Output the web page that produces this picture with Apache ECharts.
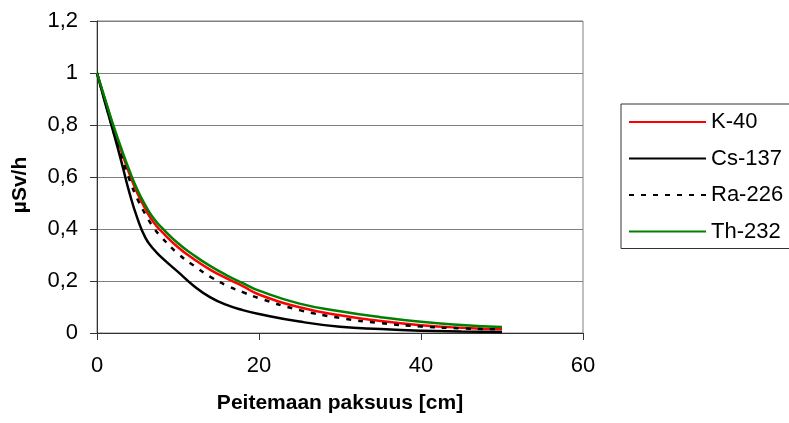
<!DOCTYPE html>
<html lang="fi">
<head>
<meta charset="UTF-8">
<title>Peitemaan paksuus</title>
<script src="https://cdn.jsdelivr.net/npm/echarts@6/dist/echarts.min.js"></script>
<style>
    html, body { margin: 0; padding: 0; background: #fff; }
    #chart { width: 789px; height: 423px; }
</style>
</head>
<body>
<div id="chart"></div>
<script>
    // paksuus cm
    var thickness = [0, 1, 2, 3, 4, 5, 6, 7, 8, 10, 12, 14, 16, 18, 20, 25, 30, 35, 40, 45, 50];
    // annosnopeus uSv/h
    var k40   = [1, 0.895, 0.795, 0.70, 0.612, 0.537, 0.475, 0.425, 0.39, 0.33, 0.283, 0.243, 0.21, 0.18, 0.148, 0.099, 0.068, 0.046, 0.03, 0.02, 0.014];
    var cs137 = [1, 0.885, 0.775, 0.66, 0.54, 0.44, 0.365, 0.322, 0.29, 0.235, 0.18, 0.137, 0.108, 0.088, 0.073, 0.044, 0.024, 0.015, 0.009, 0.006, 0.004];
    var ra226 = [1, 0.89, 0.78, 0.68, 0.59, 0.515, 0.455, 0.405, 0.367, 0.305, 0.258, 0.216, 0.183, 0.157, 0.134, 0.088, 0.058, 0.038, 0.025, 0.018, 0.014];
    var th232 = [1, 0.90, 0.80, 0.71, 0.625, 0.55, 0.49, 0.44, 0.405, 0.345, 0.298, 0.257, 0.222, 0.192, 0.163, 0.113, 0.084, 0.061, 0.043, 0.031, 0.023];
    var names = ['K-40', 'Cs-137', 'Ra-226', 'Th-232'];

    function pairs(vals) {
        return thickness.map(function (x, i) { return [x, vals[i]]; });
    }

    var font = 'Liberation Sans, Arial, sans-serif';
    var chart = echarts.init(document.getElementById('chart'));

    var option = {
        animation: false,
        grid: {
            left: 97, right: 206, top: 21, bottom: 90,
            containLabel: false,
            outerBoundsMode: 'none',
            show: true,
            borderColor: '#808080',
            borderWidth: 1
        },
        legend: {
            orient: 'vertical',
            left: 621,
            top: 104,
            data: names,
            itemWidth: 77,
            itemHeight: 2,
            itemGap: 14.5,
            padding: [7, 12, 6, 7],
            borderColor: '#333',
            borderWidth: 1,
            itemStyle: { opacity: 0 },
            textStyle: { fontFamily: font, fontSize: 22, color: '#000', lineHeight: 22 }
        },
        xAxis: {
            type: 'value',
            min: 0, max: 60, interval: 20,
            name: 'Peitemaan paksuus [cm]',
            nameLocation: 'middle',
            nameGap: 60,
            nameTextStyle: { fontFamily: font, fontSize: 21, fontWeight: 'bold', color: '#000' },
            axisLine: { lineStyle: { color: '#333', width: 1 } },
            axisTick: { show: true, length: 7, lineStyle: { color: '#333' } },
            axisLabel: { margin: 22, fontFamily: font, fontSize: 22, color: '#000' },
            splitLine: { show: false }
        },
        yAxis: {
            type: 'value',
            min: 0, max: 1.2, interval: 0.2,
            name: 'µSv/h',
            nameLocation: 'middle',
            nameGap: 66,
            nameRotate: 90,
            nameTextStyle: { fontFamily: font, fontSize: 21, fontWeight: 'bold', color: '#000', padding: [0, 16, 0, 0] },
            axisLine: { show: true, lineStyle: { color: '#333', width: 1 } },
            axisTick: { show: true, length: 7, lineStyle: { color: '#333' } },
            axisLabel: {
                margin: 19, fontFamily: font, fontSize: 22, color: '#000',
                formatter: function (v) { return (+v.toFixed(1)).toString().replace('.', ','); }
            },
            splitLine: { show: true, lineStyle: { color: '#808080', width: 1 } }
        },
        series: [
            {
                name: names[0], type: 'line', data: pairs(k40), symbol: 'none', smooth: 0.5,
                lineStyle: { color: '#ff0000', width: 2.5 }, itemStyle: { color: '#ff0000' }
            },
            {
                name: names[1], type: 'line', data: pairs(cs137), symbol: 'none', smooth: 0.5,
                lineStyle: { color: '#000000', width: 2.5 }, itemStyle: { color: '#000000' }
            },
            {
                name: names[2], type: 'line', data: pairs(ra226), symbol: 'none', smooth: 0.5,
                lineStyle: { color: '#000000', width: 2.5, type: [5, 7] }, itemStyle: { color: '#000000' }
            },
            {
                name: names[3], type: 'line', data: pairs(th232), symbol: 'none', smooth: 0.5,
                lineStyle: { color: '#008000', width: 2.5 }, itemStyle: { color: '#008000' }
            }
        ]
    };

    chart.setOption(option);
</script>
</body>
</html>
